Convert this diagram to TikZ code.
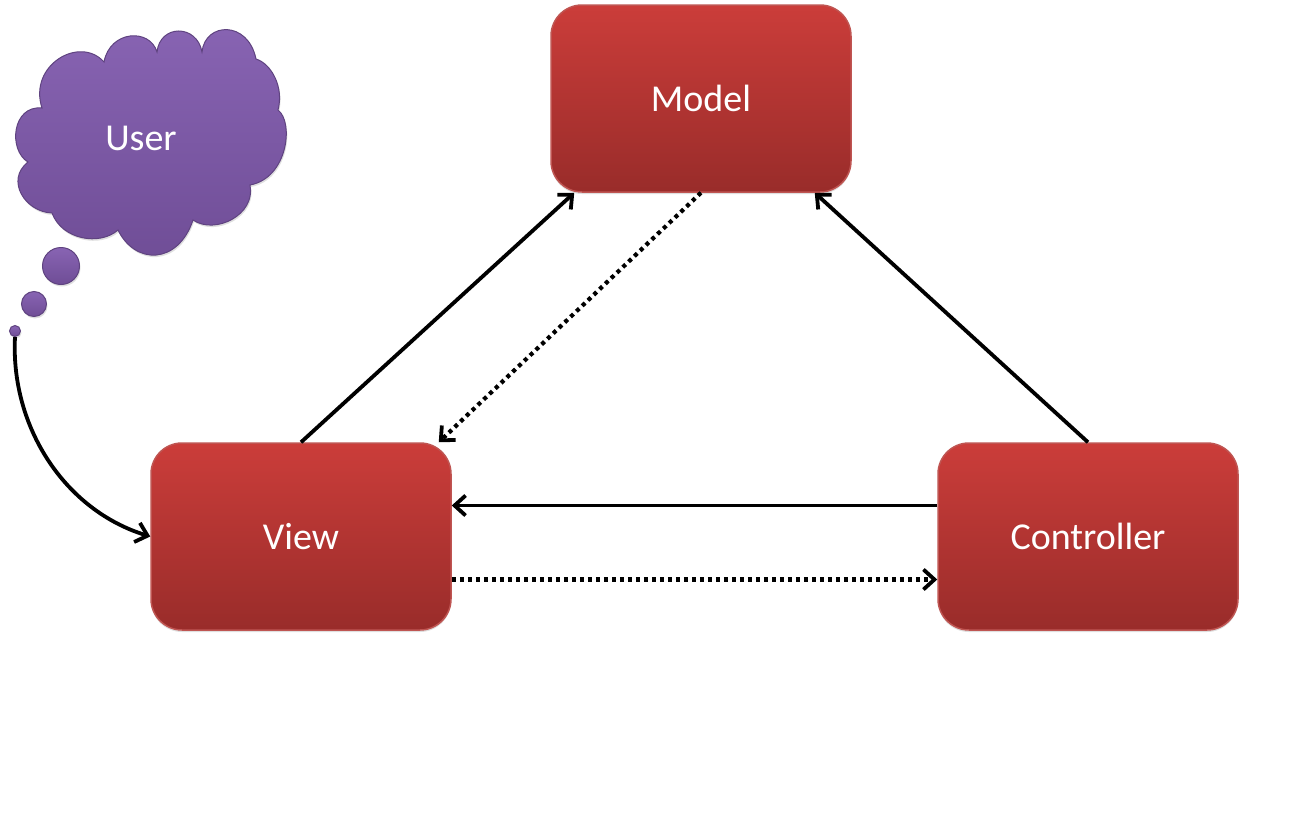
\documentclass[tikz,border=0pt]{standalone}
\usepackage{fontspec}
\setmainfont{Carlito}
\usetikzlibrary{arrows.meta}
\usetikzlibrary{positioning}
\usetikzlibrary{shadows}

\definecolor{redtop}{HTML}{CB3D3A}
\definecolor{redmiddle}{HTML}{BC3A37}
\definecolor{redbottom}{HTML}{992C2A}
\definecolor{rededge}{HTML}{BF5552}
\definecolor{purpletop}{HTML}{8864B3}
\definecolor{purplebottom}{HTML}{6F4D96}
\definecolor{purpleedge}{HTML}{5F4380}

\tikzset{
  partbox/.style={shape=rectangle,rounded corners=31pt,minimum width=300pt,minimum height=187pt,
    draw=rededge,line width=1.5pt,top color=redtop,middle color=redmiddle,bottom color=redbottom,text=white,
    font=\fontsize{38}{38}\selectfont,drop shadow={opacity=0.25,shadow xshift=0pt,shadow yshift=-2pt}},
  bubble/.style={shape=circle,inner sep=0pt,draw=purpleedge,line width=1pt,
    top color=purpletop,bottom color=purplebottom,drop shadow={opacity=0.25,shadow xshift=1pt,shadow yshift=-2pt}},
  link/.style={-{Straight Barb[length=11pt,width=20pt,line width=3.8pt]},line width=3.8pt,black},
  dotlink/.style={link,line width=4.2pt,dash pattern=on 4pt off 4pt}
}

\begin{document}
\begin{tikzpicture}[x=1pt,y=-1pt]
\useasboundingbox (0,0) rectangle (1302,814);

% cloud
\draw[draw=purpleedge,line width=1pt,top color=purpletop,bottom color=purplebottom,
  drop shadow={opacity=0.25,shadow xshift=1pt,shadow yshift=-2pt}]
  (104,62) .. controls (110,30) and (150,28) .. (157,52)
  .. controls (160,24) and (197,24) .. (202,52)
  .. controls (205,22) and (248,20) .. (256,59)
  .. controls (272,64) and (284,88) .. (278,110)
  .. controls (294,122) and (288,178) .. (250,185)
  .. controls (256,215) and (215,235) .. (193,220)
  .. controls (178,265) and (135,265) .. (118,230)
  .. controls (100,246) and (62,240) .. (52,213)
  .. controls (25,212) and (5,180) .. (28,162)
  .. controls (8,150) and (12,105) .. (42,108)
  .. controls (28,65) and (80,35) .. (104,62) -- cycle;
\node[text=white,font=\fontsize{38}{38}\selectfont] (user) at (141,138.5) {User};
\node[bubble,minimum size=37pt] (bubbleA) at (61,266) {};
\node[bubble,minimum size=25pt] (bubbleB) at (34,304) {};
\node[bubble,minimum size=11pt] (bubbleC) at (15,331) {};

% boxes
\node[partbox] (model) at (701,98.5) {Model};
\node[partbox] (view) at (301,536.5) {View};
\node[partbox,right=485.5pt of view] (controller) {Controller};

% connectors
\draw[link] (view.north) -- ([xshift=24pt]model.south west);
\draw[link] (controller.north) -- ([xshift=-37pt]model.south east);
\draw[dotlink] (model.south) -- ([xshift=-13pt]view.north east);
\draw[link] ([yshift=31pt]controller.west) -- ([yshift=31pt]view.east);
\draw[dotlink] ([yshift=-43pt]view.east) -- ([yshift=-43pt]controller.west);
\draw[link] (bubbleC.south) to[out=-93,in=163,looseness=0.95] (view.west);
\end{tikzpicture}
\end{document}
